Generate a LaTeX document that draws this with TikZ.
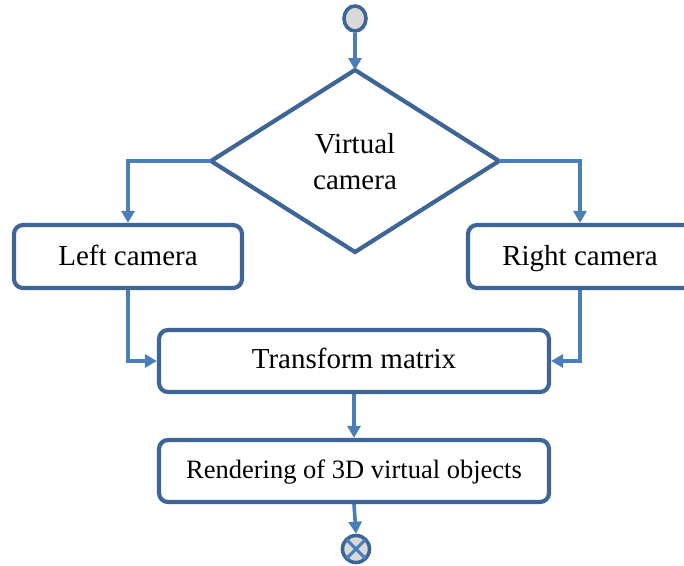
\documentclass[tikz,border=0pt]{standalone}
\usepackage{fontspec}
\setmainfont{Liberation Serif}
\usetikzlibrary{arrows.meta,shapes.geometric}
\definecolor{boxblue}{HTML}{3D6595}
\definecolor{arrowblue}{HTML}{4A7EBB}
\definecolor{circfill}{HTML}{D9D9D9}
\tikzset{
  flowbox/.style={draw=boxblue, line width=4.2pt, rounded corners=9pt, fill=white, inner sep=0pt},
  flowarrow/.style={draw=arrowblue, line width=3.6pt, -{Triangle[length=12pt,width=13pt]}},
  boxtext/.style={font=\fontsize{29}{36}\selectfont, align=center},
  linetext/.style={font=\fontsize{29}{36}\selectfont, text height=20pt, text depth=6pt, inner sep=0pt},
}
\begin{document}
\begin{tikzpicture}[x=1pt,y=-1pt]
\useasboundingbox (0,0) rectangle (684,565);
\clip (0,0) rectangle (684,565);
% start circle
\node[draw=boxblue, line width=3.6pt, fill=circfill, ellipse, minimum width=22pt, minimum height=25pt, inner sep=0pt] (start) at (355,18.5) {};
% diamond
\draw[draw=boxblue, line width=4.2pt, fill=white, line join=miter] (355,70) coordinate (dt) -- (499,161) coordinate (dr) -- (355,252) coordinate (db) -- (211,161) coordinate (dl) -- cycle;
\node[boxtext, inner sep=0pt] (vc) at (355,162) {Virtual\\camera};
% boxes
\node[flowbox, minimum width=228pt, minimum height=63pt] (left) at (128,256.5) {};
\node[linetext] (lefttxt) at (128,258) {Left camera};
\node[flowbox, minimum width=224pt, minimum height=63pt] (right) at (580,256.5) {};
\node[linetext] (righttxt) at (580,258) {Right camera};
\node[flowbox, minimum width=390pt, minimum height=62pt] (trans) at (354,361) {};
\node[linetext] (transtxt) at (354,361) {Transform matrix};
\node[flowbox, minimum width=390pt, minimum height=62pt] (rend) at (354,471) {};
\node[font=\fontsize{26.5}{32}\selectfont, text height=18pt, text depth=6pt, inner sep=0pt] (rendtxt) at (354,472) {Rendering of 3D virtual objects};
% end circle
\node[draw=boxblue, line width=3.6pt, fill=circfill, circle, minimum size=27pt, inner sep=0pt] (end) at (356,549) {};
\draw[arrowblue, line width=3pt] ([shift={(-9.5,-9.5)}]end.center) -- ([shift={(9.5,9.5)}]end.center)
  ([shift={(9.5,-9.5)}]end.center) -- ([shift={(-9.5,9.5)}]end.center);
% connectors
\draw[flowarrow] (start.south) -- (dt);
\draw[flowarrow] (dl) -| (left.north);
\draw[flowarrow] (dr) -| (right.north);
\draw[flowarrow] (left.south) |- (trans.west);
\draw[flowarrow] (right.south) |- (trans.east);
\draw[flowarrow] (trans.south) -- (rend.north);
\draw[flowarrow] (rend.south) -- (end.north);
\end{tikzpicture}
\end{document}
